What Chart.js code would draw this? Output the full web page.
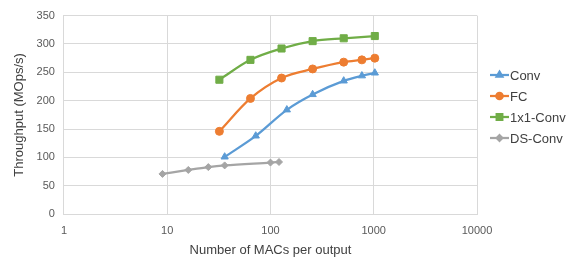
<!DOCTYPE html>
<html>
<head>
<meta charset="utf-8">
<script src="https://cdn.jsdelivr.net/npm/chart.js@4/dist/chart.umd.min.js"></script>
<style>
  html, body { margin: 0; padding: 0; background: #fff; }
  #wrap { width: 571px; height: 258px; }
</style>
</head>
<body>
<div id="wrap"><canvas id="c" width="571" height="258"></canvas></div>
<script>
// x = MACs per output, y = throughput (MOps/s)
const convX = [36, 72, 144, 256, 512, 768, 1024];
const convY = [101, 138, 184, 211, 235, 244, 249];
const fcX = [32, 64, 128, 256, 512, 768, 1024];
const fcY = [146, 204, 240, 256, 268, 272, 275];
const conv1x1X = [32, 64, 128, 256, 512, 1024];
const conv1x1Y = [237, 272, 292, 305, 310, 314];
const dsX = [9, 16, 25, 36, 100, 121];
const dsY = [71, 78, 83, 86, 91, 92];
const xTicks = [1, 10, 100, 1000, 10000];

const FONT = '"Liberation Sans", Arial, sans-serif';

function pts(xs, ys) {
  return xs.map((x, i) => ({ x, y: ys[i] }));
}

function series(label, xs, ys, color, style, r) {
  return {
    label,
    data: pts(xs, ys),
    borderColor: color,
    backgroundColor: color,
    borderWidth: 2.25,
    pointStyle: style,
    pointRadius: r,
    pointBorderWidth: 1,
    tension: 0.4,
    cubicInterpolationMode: 'monotone',
  };
}

// excel-like legend: short line with marker, then the label
const sideLegend = {
  id: 'sideLegend',
  afterDraw(chart) {
    const ctx = chart.ctx;
    const x0 = 490, y0 = 75, gap = 21;
    chart.data.datasets.forEach((ds, i) => {
      const y = y0 + i * gap;
      ctx.save();
      ctx.strokeStyle = ds.borderColor;
      ctx.lineWidth = 2.25;
      ctx.beginPath();
      ctx.moveTo(x0, y);
      ctx.lineTo(x0 + 19, y);
      ctx.stroke();
      Chart.helpers.drawPoint(ctx, {
        pointStyle: ds.pointStyle,
        radius: ds.pointRadius * 0.8,
        borderWidth: 1,
        rotation: 0,
      }, x0 + 9.5, y);
      ctx.fillStyle = ds.borderColor;
      ctx.fill();
      ctx.fillStyle = '#404040';
      ctx.font = '13px ' + FONT;
      ctx.textBaseline = 'middle';
      ctx.fillText(ds.label, x0 + 20, y + 1);
      ctx.restore();
    });
  },
};

new Chart(document.getElementById('c'), {
  type: 'line',
  data: {
    datasets: [
      series('Conv', convX, convY, '#5B9BD5', 'triangle', 4.2),
      series('FC', fcX, fcY, '#ED7D31', 'circle', 4),
      series('1x1-Conv', conv1x1X, conv1x1Y, '#70AD47', 'rect', 5),
      series('DS-Conv', dsX, dsY, '#A5A5A5', 'rectRot', 3.5),
    ],
  },
  options: {
    responsive: false,
    animation: false,
    layout: { padding: { top: 14, right: 94, bottom: 0, left: 12 } },
    plugins: {
      legend: { display: false },
      tooltip: { enabled: false },
    },
    scales: {
      x: {
        type: 'logarithmic',
        min: 1,
        max: 10000,
        afterBuildTicks(axis) {
          axis.ticks = xTicks.map(v => ({ value: v }));
        },
        ticks: {
          color: '#595959',
          font: { family: FONT, size: 11 },
          maxRotation: 0,
          padding: 10,
          callback: v => String(v),
        },
        grid: { color: '#D9D9D9', lineWidth: 1, drawTicks: false },
        border: { color: '#D9D9D9' },
        title: {
          display: true,
          text: 'Number of MACs per output',
          color: '#404040',
          font: { family: FONT, size: 13 },
          padding: { top: -5, bottom: 0 },
        },
      },
      y: {
        min: 0,
        max: 350,
        ticks: {
          stepSize: 50,
          color: '#595959',
          font: { family: FONT, size: 11 },
          padding: 9,
        },
        grid: { color: '#D9D9D9', lineWidth: 1, drawTicks: false },
        border: { color: '#D9D9D9' },
        title: {
          display: true,
          text: 'Throughput (MOps/s)',
          color: '#404040',
          font: { family: FONT, size: 13 },
          padding: { top: 0, bottom: 0 },
        },
      },
    },
  },
  plugins: [sideLegend],
});
</script>
</body>
</html>
